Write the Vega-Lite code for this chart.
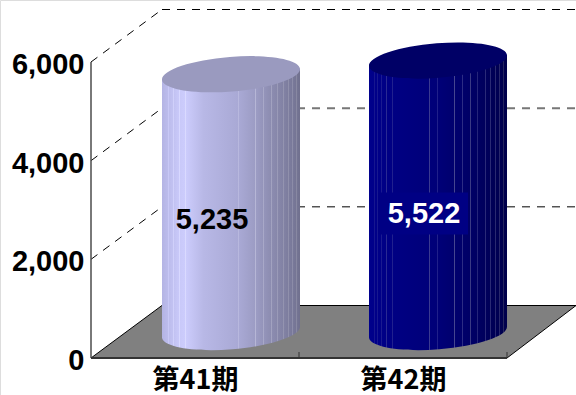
{
  "$schema": "https://vega.github.io/schema/vega-lite/v6.json",
  "width": 576,
  "height": 395,
  "padding": 0,
  "autosize": {"type": "none"},
  "background": "white",
  "config": {"scale": {"continuousPadding": 0}},
  "params": [
    {"name": "wall41", "value": {"gradient": "linear", "x1": 0, "x2": 1, "y1": 0, "y2": 0, "stops": [
      {"offset": 0, "color": "#b4b4e4"},
      {"offset": 0.043, "color": "#bcbcec"}, {"offset": 0.043, "color": "#c8c8f6"}, {"offset": 0.05, "color": "#c8c8f6"}, {"offset": 0.05, "color": "#bcbcec"},
      {"offset": 0.08, "color": "#c2c2f2"}, {"offset": 0.08, "color": "#d0d0fa"}, {"offset": 0.087, "color": "#d0d0fa"}, {"offset": 0.087, "color": "#c2c2f2"},
      {"offset": 0.123, "color": "#c9c9f9"}, {"offset": 0.123, "color": "#d8d8ff"}, {"offset": 0.13, "color": "#d8d8ff"}, {"offset": 0.13, "color": "#c9c9f9"},
      {"offset": 0.167, "color": "#ccccfc"}, {"offset": 0.167, "color": "#dadaff"}, {"offset": 0.174, "color": "#dadaff"}, {"offset": 0.174, "color": "#ccccfc"},
      {"offset": 0.3, "color": "#b8b8e6"},
      {"offset": 0.55, "color": "#a9a9d5"}, {"offset": 0.55, "color": "#b8b8de"}, {"offset": 0.557, "color": "#b8b8de"}, {"offset": 0.557, "color": "#a9a9d5"},
      {"offset": 0.674, "color": "#9c9cc4"}, {"offset": 0.674, "color": "#b6b6d6"}, {"offset": 0.681, "color": "#b6b6d6"}, {"offset": 0.681, "color": "#9c9cc4"},
      {"offset": 0.732, "color": "#9494ba"}, {"offset": 0.732, "color": "#a8a8c8"}, {"offset": 0.739, "color": "#a8a8c8"}, {"offset": 0.739, "color": "#9494ba"},
      {"offset": 0.79, "color": "#8c8cb0"}, {"offset": 0.79, "color": "#a2a2c0"}, {"offset": 0.797, "color": "#a2a2c0"}, {"offset": 0.797, "color": "#8c8cb0"},
      {"offset": 0.833, "color": "#8787aa"}, {"offset": 0.833, "color": "#9a9ab8"}, {"offset": 0.84, "color": "#9a9ab8"}, {"offset": 0.84, "color": "#8787aa"},
      {"offset": 0.877, "color": "#8282a4"}, {"offset": 0.877, "color": "#9494b0"}, {"offset": 0.884, "color": "#9494b0"}, {"offset": 0.884, "color": "#8282a4"},
      {"offset": 0.913, "color": "#7d7d9e"}, {"offset": 0.913, "color": "#9090ac"}, {"offset": 0.92, "color": "#9090ac"}, {"offset": 0.92, "color": "#7d7d9e"},
      {"offset": 0.942, "color": "#79799a"}, {"offset": 0.942, "color": "#8c8ca8"}, {"offset": 0.949, "color": "#8c8ca8"}, {"offset": 0.949, "color": "#79799a"},
      {"offset": 0.971, "color": "#757594"}, {"offset": 0.971, "color": "#8888a2"}, {"offset": 0.978, "color": "#8888a2"}, {"offset": 0.978, "color": "#757594"},
      {"offset": 1, "color": "#70708e"}
    ]}},
    {"name": "wall42", "value": {"gradient": "linear", "x1": 0, "x2": 1, "y1": 0, "y2": 0, "stops": [
      {"offset": 0, "color": "#00008c"},
      {"offset": 0.036, "color": "#000089"}, {"offset": 0.036, "color": "#16168f"}, {"offset": 0.043, "color": "#16168f"}, {"offset": 0.043, "color": "#000089"},
      {"offset": 0.058, "color": "#000088"}, {"offset": 0.058, "color": "#18188f"}, {"offset": 0.065, "color": "#18188f"}, {"offset": 0.065, "color": "#000088"},
      {"offset": 0.087, "color": "#000087"}, {"offset": 0.087, "color": "#1a1a90"}, {"offset": 0.094, "color": "#1a1a90"}, {"offset": 0.094, "color": "#000087"},
      {"offset": 0.123, "color": "#000085"}, {"offset": 0.123, "color": "#2a2a92"}, {"offset": 0.13, "color": "#2a2a92"}, {"offset": 0.13, "color": "#000085"},
      {"offset": 0.167, "color": "#000083"}, {"offset": 0.167, "color": "#20208e"}, {"offset": 0.174, "color": "#20208e"}, {"offset": 0.174, "color": "#000083"},
      {"offset": 0.435, "color": "#00007a"}, {"offset": 0.435, "color": "#3a3a90"}, {"offset": 0.442, "color": "#3a3a90"}, {"offset": 0.442, "color": "#00007a"},
      {"offset": 0.493, "color": "#000078"}, {"offset": 0.493, "color": "#20208a"}, {"offset": 0.5, "color": "#20208a"}, {"offset": 0.5, "color": "#000078"},
      {"offset": 0.616, "color": "#00006e"}, {"offset": 0.616, "color": "#45458f"}, {"offset": 0.623, "color": "#45458f"}, {"offset": 0.623, "color": "#00006e"},
      {"offset": 0.674, "color": "#00006a"}, {"offset": 0.674, "color": "#2c2c84"}, {"offset": 0.681, "color": "#2c2c84"}, {"offset": 0.681, "color": "#00006a"},
      {"offset": 0.732, "color": "#000066"}, {"offset": 0.732, "color": "#3a3a84"}, {"offset": 0.739, "color": "#3a3a84"}, {"offset": 0.739, "color": "#000066"},
      {"offset": 0.783, "color": "#000062"}, {"offset": 0.783, "color": "#25257a"}, {"offset": 0.79, "color": "#25257a"}, {"offset": 0.79, "color": "#000062"},
      {"offset": 0.841, "color": "#00005c"}, {"offset": 0.841, "color": "#2a2a78"}, {"offset": 0.848, "color": "#2a2a78"}, {"offset": 0.848, "color": "#00005c"},
      {"offset": 0.877, "color": "#000058"}, {"offset": 0.877, "color": "#2a2a74"}, {"offset": 0.884, "color": "#2a2a74"}, {"offset": 0.884, "color": "#000058"},
      {"offset": 0.913, "color": "#000054"}, {"offset": 0.913, "color": "#2a2a70"}, {"offset": 0.92, "color": "#2a2a70"}, {"offset": 0.92, "color": "#000054"},
      {"offset": 0.942, "color": "#000052"}, {"offset": 0.942, "color": "#28286a"}, {"offset": 0.949, "color": "#28286a"}, {"offset": 0.949, "color": "#000052"},
      {"offset": 0.971, "color": "#00004e"}, {"offset": 0.971, "color": "#26265e"}, {"offset": 0.978, "color": "#26265e"}, {"offset": 0.978, "color": "#00004e"},
      {"offset": 1, "color": "#00004a"}
    ]}}
  ],
  "datasets": {
    "periods": [
      {"period": "第41期", "slot": 0.5, "value": 5235},
      {"period": "第42期", "slot": 1.5, "value": 5522}
    ],
    "levels": [{"level": 2000}, {"level": 4000}, {"level": 6000}],
    "slots": [{"edge": 1}, {"edge": 2}],
    "origin": [{"edge": 1, "level": 0}]
  },
  "layer": [
    {
      "description": "Floor of the 3D box",
      "data": {"name": "origin"},
      "mark": {"type": "point", "filled": true, "fill": "#808080", "stroke": "#000000", "strokeWidth": 1, "opacity": 1,
        "shape": "M-1,0 L1,0 L1.332,-0.2524 L-0.659,-0.2524 Z", "size": 173056},
      "encoding": {
        "x": {"field": "edge", "type": "quantitative", "scale": {"domain": [-0.4375, 2.3317], "range": [0, 576], "nice": false, "zero": false},
          "axis": {"values": [0.5, 1.5], "labelExpr": "datum.value < 1 ? '第41期' : '第42期'", "title": null, "domain": false, "ticks": false, "grid": false, "offset": -37, "labelPadding": 9, "labelFont": "Noto Sans CJK JP", "labelFontSize": 27, "labelFontWeight": "bold", "labelColor": "#000000", "labelAngle": 0}},
        "y": {"field": "level", "type": "quantitative", "scale": {"domain": [-750, 7257], "range": [395, 0], "nice": false, "zero": false},
          "axis": {"values": [0, 2000, 4000, 6000], "format": ",d", "title": null, "domain": false, "ticks": false, "grid": false, "offset": -91, "labelPadding": 7, "labelFont": "Liberation Sans", "labelFontSize": 29, "labelFontWeight": "bold", "labelColor": "#000000", "labelOffset": 2.5}}
      }
    },
    {
      "description": "Dashed gridlines running up the left wall",
      "data": {"name": "levels"},
      "mark": {"type": "rule", "stroke": "#000000", "strokeWidth": 1, "strokeDash": [8, 7], "x2Offset": 71, "y2Offset": -52.5},
      "encoding": {
        "x": {"datum": 0, "type": "quantitative", "scale": {"domain": [-0.4375, 2.3317], "range": [0, 576], "nice": false, "zero": false}},
        "x2": {"datum": 0},
        "y": {"field": "level", "type": "quantitative", "scale": {"domain": [-750, 7257], "range": [395, 0], "nice": false, "zero": false}},
        "y2": {"field": "level"}
      }
    },
    {
      "description": "Dashed gridlines along the back wall; the middle one falls between pixel rows and reads as a wider grey line",
      "data": {"name": "levels"},
      "mark": {"type": "rule", "strokeDash": [8, 7], "xOffset": 71, "x2Offset": 69, "yOffset": -52.5, "y2Offset": -52.5},
      "encoding": {
        "x": {"datum": 0, "type": "quantitative", "scale": {"domain": [-0.4375, 2.3317], "range": [0, 576], "nice": false, "zero": false}},
        "x2": {"datum": 2},
        "y": {"field": "level", "type": "quantitative", "scale": {"domain": [-750, 7257], "range": [395, 0], "nice": false, "zero": false}},
        "y2": {"field": "level"},
        "stroke": {"condition": {"test": "datum.level === 4000", "value": "#777777"}, "value": "#000000"},
        "strokeWidth": {"condition": {"test": "datum.level === 4000", "value": 2}, "value": 1}
      }
    },
    {
      "description": "Vertical value axis line",
      "data": {"name": "origin"},
      "mark": {"type": "rule", "stroke": "#4d4d4d", "strokeWidth": 1.5},
      "encoding": {
        "x": {"datum": 0, "type": "quantitative", "scale": {"domain": [-0.4375, 2.3317], "range": [0, 576], "nice": false, "zero": false}},
        "y": {"datum": 0, "type": "quantitative", "scale": {"domain": [-750, 7257], "range": [395, 0], "nice": false, "zero": false}},
        "y2": {"datum": 6000}
      }
    },
    {
      "description": "Front edge of the floor",
      "data": {"name": "origin"},
      "mark": {"type": "rule", "stroke": "#333333", "strokeWidth": 2},
      "encoding": {
        "x": {"datum": 0, "type": "quantitative", "scale": {"domain": [-0.4375, 2.3317], "range": [0, 576], "nice": false, "zero": false}},
        "x2": {"datum": 2},
        "y": {"datum": 0, "type": "quantitative", "scale": {"domain": [-750, 7257], "range": [395, 0], "nice": false, "zero": false}}
      }
    },
    {
      "description": "Category ticks on the front edge",
      "data": {"name": "slots"},
      "mark": {"type": "rule", "stroke": "#333333", "strokeWidth": 1, "y2Offset": -6},
      "encoding": {
        "x": {"field": "edge", "type": "quantitative", "scale": {"domain": [-0.4375, 2.3317], "range": [0, 576], "nice": false, "zero": false}},
        "y": {"datum": 0, "type": "quantitative", "scale": {"domain": [-750, 7257], "range": [395, 0], "nice": false, "zero": false}},
        "y2": {"datum": 0}
      }
    },
    {
      "description": "第41期 cylinder: base curve, body, shoulder under the lid, lid, value label",
      "data": {"name": "periods"},
      "transform": [{"filter": "datum.period === '第41期'"}],
      "encoding": {
        "x": {"field": "slot", "type": "quantitative", "scale": {"domain": [-0.4375, 2.3317], "range": [0, 576], "nice": false, "zero": false}},
        "y": {"field": "value", "type": "quantitative", "scale": {"domain": [-750, 7257], "range": [395, 0], "nice": false, "zero": false}}
      },
      "layer": [
        {
          "mark": {"type": "point", "color": {"expr": "wall41"}, "filled": true, "opacity": 1, "xOffset": 36, "yOffset": -26, "size": 19044,
            "shape": "M-1,-0.2 L-1,0.08 A1,0.25,-4.6,0,0,1,-0.08 L1,-0.2 Z"},
          "encoding": {"y": {"datum": 0, "type": "quantitative", "scale": {"domain": [-750, 7257], "range": [395, 0], "nice": false, "zero": false}}}
        },
        {
          "mark": {"type": "bar", "color": {"expr": "wall41"}, "orient": "vertical", "size": 138, "xOffset": 36, "yOffset": -15, "y2Offset": -32},
          "encoding": {"y2": {"datum": 0}}
        },
        {
          "mark": {"type": "point", "color": {"expr": "wall41"}, "filled": true, "opacity": 1, "xOffset": 36, "yOffset": -25.5, "size": 19044,
            "shape": "M-1,0.08 L-1,0.3 L1,0.3 L1,-0.08 Z"}
        },
        {
          "mark": {"type": "point", "filled": true, "opacity": 1, "fill": "#9a9abf", "xOffset": 36, "yOffset": -25.5, "size": 19044,
            "shape": "M-1,0.08 A1,0.25,-4.6,0,1,1,-0.08 A1,0.25,-4.6,0,1,-1,0.08 Z"}
        },
        {
          "mark": {"type": "text", "font": "Liberation Sans", "fontSize": 29, "fontWeight": "bold", "fill": "#000000", "xOffset": 17, "yOffset": 120, "baseline": "middle", "align": "center"},
          "encoding": {"text": {"field": "value", "type": "quantitative", "format": ",d"}}
        }
      ]
    },
    {
      "description": "第42期 cylinder: base curve, body, shoulder under the lid, lid, label plate, value label",
      "data": {"name": "periods"},
      "transform": [{"filter": "datum.period === '第42期'"}],
      "encoding": {
        "x": {"field": "slot", "type": "quantitative", "scale": {"domain": [-0.4375, 2.3317], "range": [0, 576], "nice": false, "zero": false}},
        "y": {"field": "value", "type": "quantitative", "scale": {"domain": [-750, 7257], "range": [395, 0], "nice": false, "zero": false}}
      },
      "layer": [
        {
          "mark": {"type": "point", "color": {"expr": "wall42"}, "filled": true, "opacity": 1, "xOffset": 35, "yOffset": -26, "size": 19044,
            "shape": "M-1,-0.2 L-1,0.08 A1,0.25,-4.6,0,0,1,-0.08 L1,-0.2 Z"},
          "encoding": {"y": {"datum": 0, "type": "quantitative", "scale": {"domain": [-750, 7257], "range": [395, 0], "nice": false, "zero": false}}}
        },
        {
          "mark": {"type": "bar", "color": {"expr": "wall42"}, "orient": "vertical", "size": 138, "xOffset": 35, "yOffset": -15, "y2Offset": -32},
          "encoding": {"y2": {"datum": 0}}
        },
        {
          "mark": {"type": "point", "color": {"expr": "wall42"}, "filled": true, "opacity": 1, "xOffset": 35, "yOffset": -25, "size": 19044,
            "shape": "M-1,0.08 L-1,0.3 L1,0.3 L1,-0.08 Z"}
        },
        {
          "mark": {"type": "point", "filled": true, "opacity": 1, "fill": "#000066", "xOffset": 35, "yOffset": -25, "size": 19044,
            "shape": "M-1,0.08 A1,0.25,-4.6,0,1,1,-0.08 A1,0.25,-4.6,0,1,-1,0.08 Z"}
        },
        {
          "description": "Plate behind the value label",
          "mark": {"type": "point", "filled": true, "opacity": 1, "fill": "#000084", "xOffset": 20, "yOffset": 128, "size": 8100,
            "shape": "M-1,-0.467 H1 V0.467 H-1 Z"}
        },
        {
          "mark": {"type": "text", "font": "Liberation Sans", "fontSize": 29, "fontWeight": "bold", "fill": "#ffffff", "xOffset": 21, "yOffset": 128, "baseline": "middle", "align": "center"},
          "encoding": {"text": {"field": "value", "type": "quantitative", "format": ",d"}}
        }
      ]
    }
  ]
}
